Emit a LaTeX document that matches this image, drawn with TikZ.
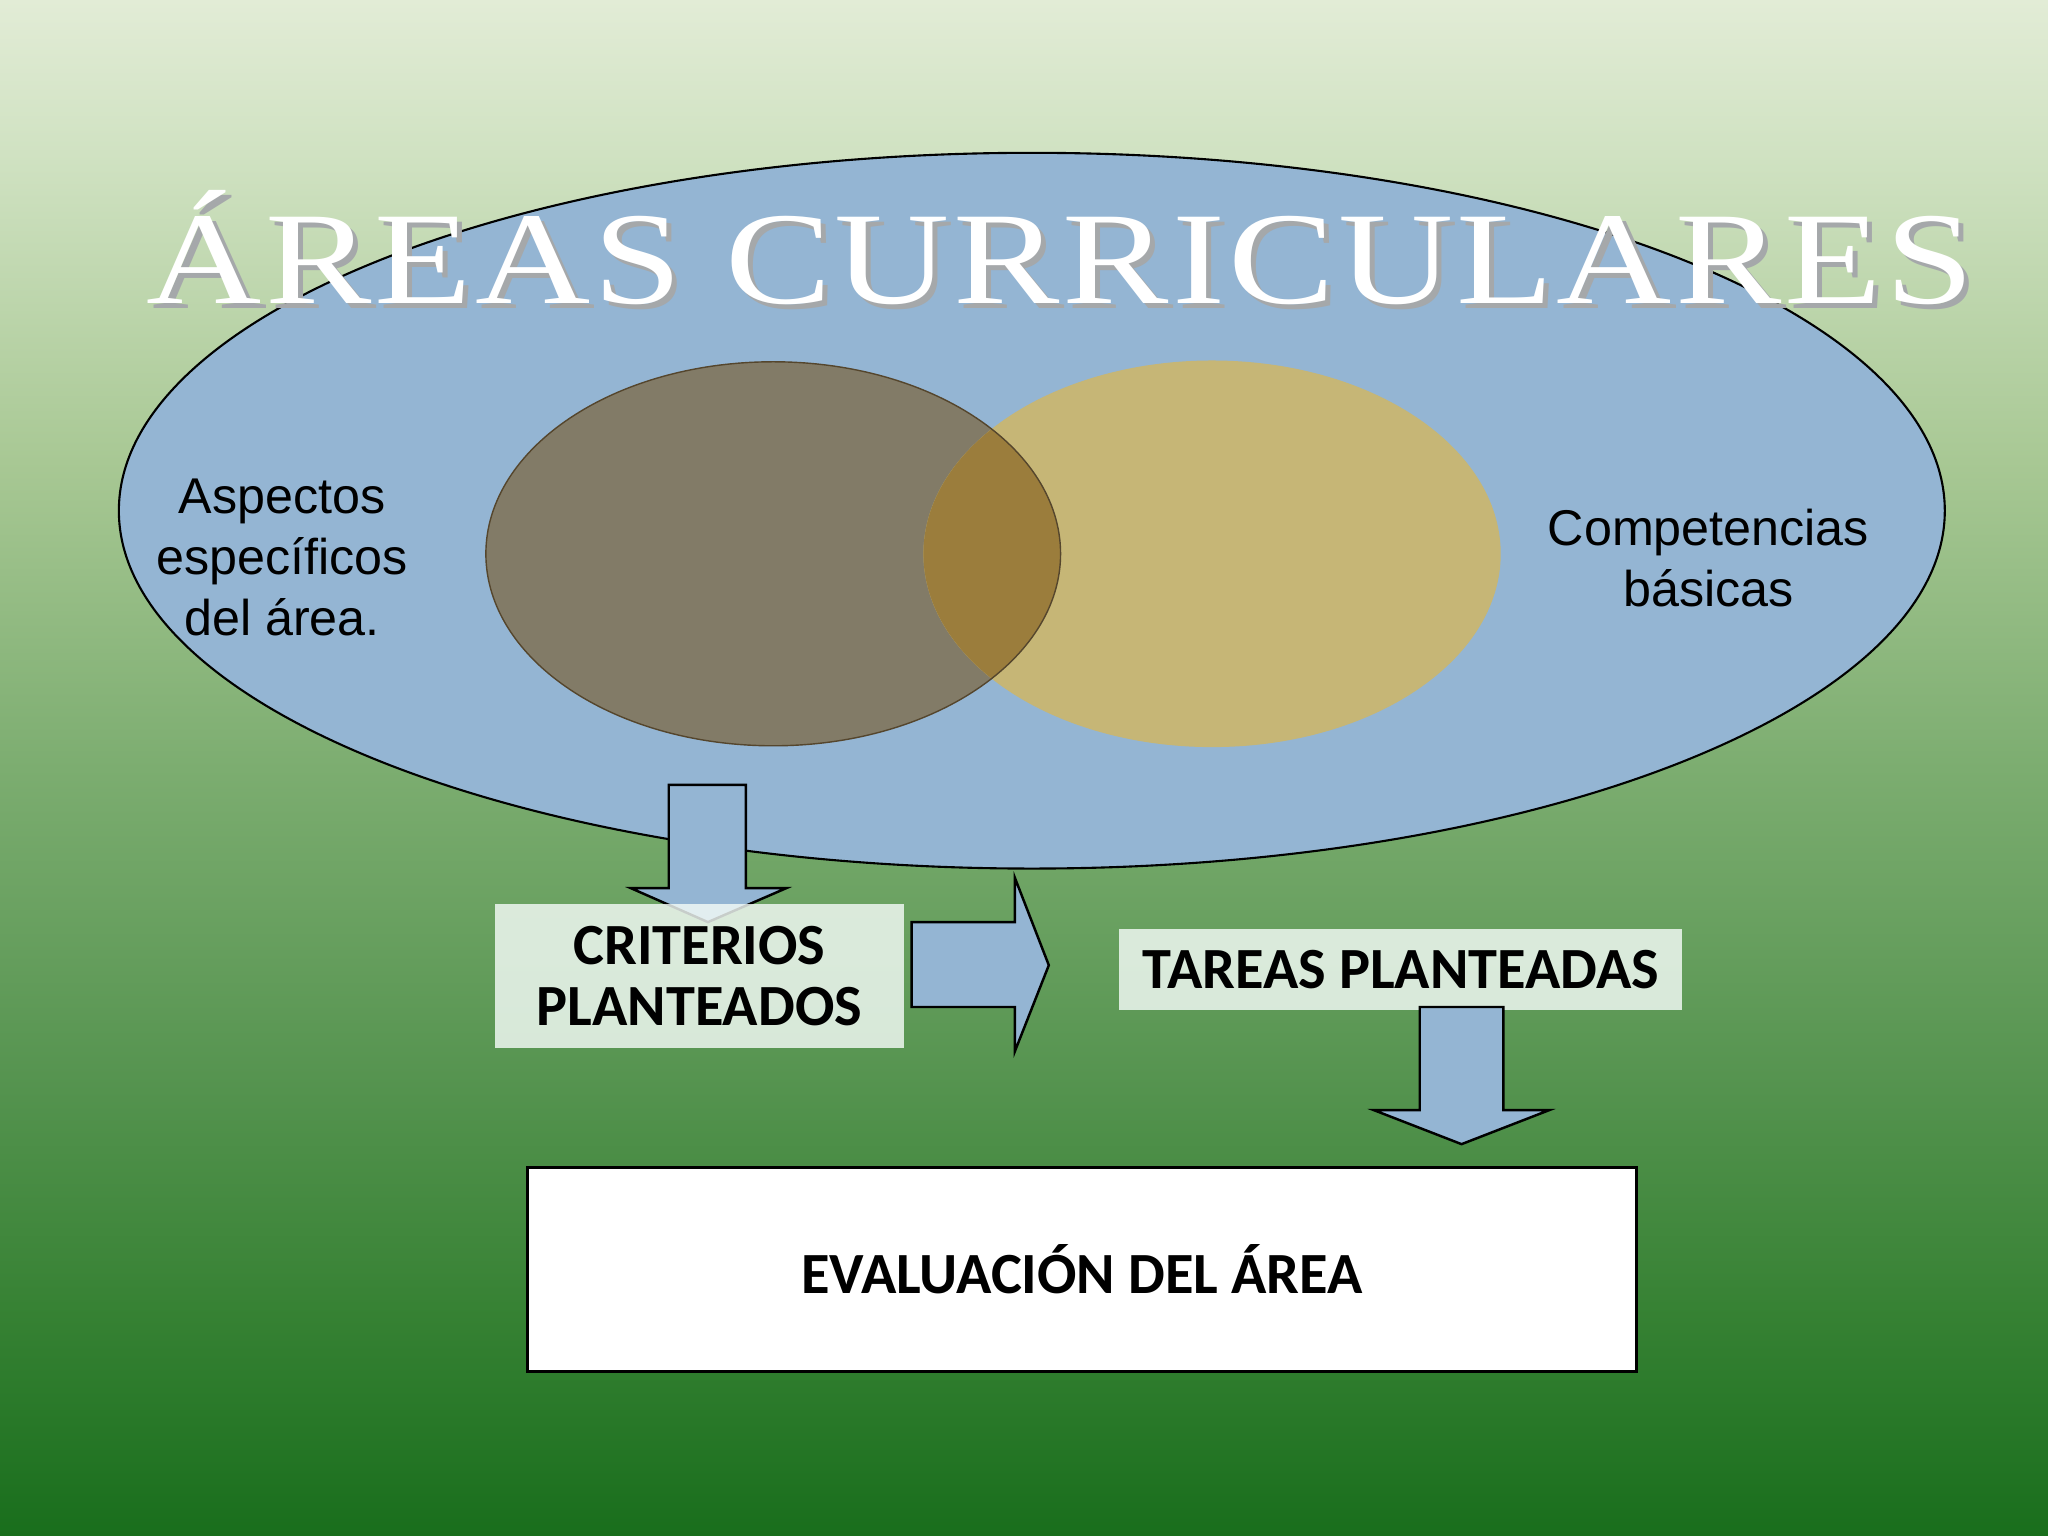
\documentclass[tikz,border=0pt]{standalone}
\usepackage{fontspec}
\setmainfont{Liberation Sans}
\newfontfamily\titlefont[LetterSpace=2.4,FakeStretch=1.21]{Liberation Serif}
\newfontfamily\boxfont{Carlito}
\usetikzlibrary{positioning}

\definecolor{bgtop}{RGB}{226,236,214}
\definecolor{bgA}{RGB}{208,226,194}
\definecolor{bgB}{RGB}{168,200,148}
\definecolor{bgC}{RGB}{124,173,112}
\definecolor{bgD}{RGB}{86,148,80}
\definecolor{bgE}{RGB}{55,130,52}
\definecolor{bgbot}{RGB}{25,110,28}
\definecolor{areablue}{RGB}{148,181,211}
\definecolor{aspbrown}{RGB}{130,123,103}
\definecolor{compyellow}{RGB}{198,182,118}
\definecolor{overlapbrown}{RGB}{155,125,60}
\definecolor{rimbrown}{RGB}{85,70,45}
\definecolor{boxpale}{RGB}{244,251,247}
\definecolor{titleshadow}{RGB}{165,168,170}

\pgfdeclareverticalshading{slidebg}{100bp}{
  color(0bp)=(bgbot); color(25bp)=(bgbot); color(32.5bp)=(bgE);
  color(40bp)=(bgD); color(50bp)=(bgC); color(60bp)=(bgB);
  color(70bp)=(bgA); color(75bp)=(bgtop); color(100bp)=(bgtop)}

\newcommand{\px}{0.013061cm}

\tikzset{
  blockarrow/.style={fill=areablue, draw=black, line width=0.7pt, line join=miter},
  palebox/.style={fill=boxpale, fill opacity=0.82, text opacity=1, inner sep=0pt,
    font=\boxfont\bfseries\fontsize{16.6}{17.4}\selectfont, align=center},
  sidetext/.style={font=\fontsize{14.3}{17.4}\selectfont, align=center}
}

\begin{document}
\begin{tikzpicture}[x=\px, y=-\px]
  \useasboundingbox (0,0) rectangle (1568,1176);
  % background of the slide
  \shade[shading=slidebg] (0,0) rectangle (1568,1176);

  % the big area
  \draw[fill=areablue, line width=0.6pt] (790,391) ellipse [x radius=699, y radius=274];

  % title
  \node[anchor=base, text=titleshadow, font=\titlefont\fontsize{37.5}{40}\selectfont]
    (titleshadow) at (816,236) {ÁREAS CURRICULARES};
  \node[anchor=base, text=white, font=\titlefont\fontsize{37.5}{40}\selectfont]
    (title) at (812,232) {ÁREAS CURRICULARES};

  % the two inner sets
  \fill[aspbrown] (592,424) ellipse [x radius=220, y radius=147];
  \fill[compyellow] (928,424) ellipse [x radius=221, y radius=148];
  \begin{scope}
    \clip (592,424) ellipse [x radius=220, y radius=147];
    \fill[overlapbrown] (928,424) ellipse [x radius=221, y radius=148];
  \end{scope}
  \draw[rimbrown, line width=0.4pt] (592,424) ellipse [x radius=220, y radius=147];

  \node[sidetext] (aspectos) at (216,427) {Aspectos\\específicos\\del área.};
  \node[sidetext] (competencias) at (1308,427) {Competencias\\básicas};

  % arrow down to the criteria
  \draw[blockarrow] (512,601) -- (571,601) -- (571,680) -- (602,680) -- (542,706)
    -- (483,680) -- (512,680) -- cycle;
  \node[palebox, minimum width=313*\px, minimum height=110*\px] (criterios)
    at (535.5,747) {CRITERIOS\\PLANTEADOS};

  % arrow to the tasks
  \draw[blockarrow] (698,706) -- (777,706) -- (777,672) -- (803,739) -- (777,805)
    -- (777,771) -- (698,771) -- cycle;
  \node[palebox, minimum width=431*\px, minimum height=62*\px] (tareas)
    at (1072.5,742) {TAREAS PLANTEADAS};

  % arrow down to the evaluation
  \draw[blockarrow] (1087,771) -- (1151,771) -- (1151,850) -- (1186,850) -- (1119,876)
    -- (1052,850) -- (1087,850) -- cycle;

  \node[draw=black, fill=white, line width=0.7pt, minimum width=849*\px,
    minimum height=156*\px, font=\boxfont\bfseries\fontsize{16.6}{17.4}\selectfont]
    (evaluacion) at (828.5,972) {EVALUACIÓN DEL ÁREA};
\end{tikzpicture}
\end{document}
